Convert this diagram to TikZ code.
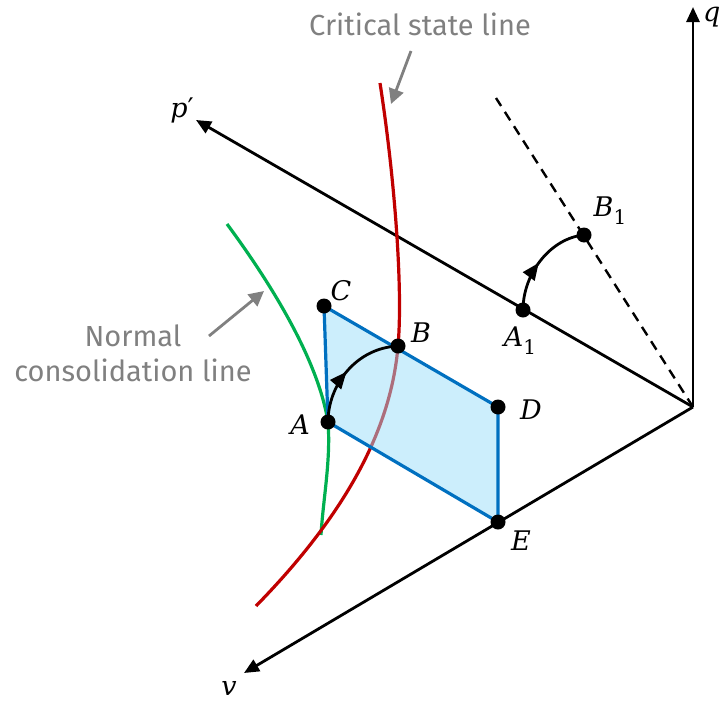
\documentclass[tikz,border=0pt]{standalone}
\usepackage{fontspec}
\usetikzlibrary{arrows.meta,decorations.markings}
\newfontfamily\grayfont{Fira Sans}
\newfontfamily\labfont{DejaVu Serif}
\newcommand{\labsub}[1]{\raisebox{-0.3em}{\upshape\fontsize{20}{20}\selectfont #1}}
\definecolor{cslred}{RGB}{192,0,0}
\definecolor{nclgreen}{RGB}{0,176,80}
\definecolor{boxblue}{RGB}{0,112,192}
\definecolor{boxfill}{RGB}{153,221,249}
\definecolor{txtgray}{RGB}{128,128,128}
\begin{document}
\begin{tikzpicture}[x=1pt,y=-1pt,
  axis/.style={line width=2.8pt,-{Triangle[length=15pt,width=13pt]}},
  dot/.style={circle,fill=black,inner sep=0pt,minimum size=15pt},
  lab/.style={inner sep=1pt,font=\labfont\itshape\fontsize{27}{30}\selectfont},
  graytxt/.style={text=txtgray,font=\grayfont\fontsize{29}{35}\selectfont,align=center,inner sep=0pt},
  grayarrow/.style={draw=txtgray,line width=2.8pt,-{Triangle[length=15pt,width=15pt]}},
  patharrow/.style={line width=2.8pt,postaction={decorate},
    decoration={markings,mark=at position 0.48 with {\arrow{Triangle[length=17pt,width=14pt]}}}}]
\useasboundingbox (0,0) rectangle (720,704);
% coordinates
\coordinate (O) at (693,407);
\coordinate (qtip) at (693,7);
\coordinate (ptip) at (196,120);
\coordinate (vtip) at (244,673);
\coordinate (dashend) at (496,98);
% axes
\draw[axis] (O) -- (qtip);
\draw[axis] (O) -- (ptip);
\draw[axis] (O) -- (vtip);
\draw[line width=2.4pt,dash pattern=on 10pt off 7pt] (O) -- (dashend);
% curves
\draw[nclgreen,line width=3.2pt] (227,224) .. controls (272,285) and (318,360) .. (328,422)
  .. controls (331,460) and (323,500) .. (321,535);
\draw[cslred,line width=3.2pt] (380,83) .. controls (395,180) and (403,290) .. (398,346)
  .. controls (391,430) and (345,515) .. (256,606);
% parallelogram
\coordinate (Cp) at (324,306);
\coordinate (Dp) at (498,407);
\coordinate (Ep) at (498,522);
\coordinate (Ap) at (328,422);
\fill[boxfill,fill opacity=0.5] (Cp) -- (Dp) -- (Ep) -- (Ap) -- cycle;
\draw[boxblue,line width=3.2pt,line join=round] (Cp) -- (Dp) -- (Ep) -- (Ap) -- cycle;
% dots
\node[dot] (C) at (Cp) {};
\node[dot] (B) at (398,346) {};
\node[dot] (D) at (Dp) {};
\node[dot] (E) at (Ep) {};
\node[dot] (A) at (Ap) {};
\node[dot] (A1) at (523,310) {};
\node[dot] (B1) at (584,235) {};
% stress path arcs
\draw[patharrow] (A.center) .. controls (328,385) and (356,348) .. (B.center);
\draw[patharrow] (A1.center) .. controls (523,273) and (551,238) .. (B1.center);
% labels
\node[lab] (lC) at (341,291) {C};
\node[lab] (lB) at (421,333) {B};
\node[lab] (lD) at (531,410) {D};
\node[lab] (lE) at (521,541) {E};
\node[lab] (lA) at (300,425) {A};
\node[lab] (lA1) at (520,341) {A\labsub{1}};
\node[lab] (lB1) at (610,211) {B\labsub{1}};
\node[lab] (lp) at (182,110) {p{\upshape′}};
\node[lab] (lv) at (229,688) {v};
\node[lab,anchor=west,inner sep=0pt] (lq) at (703,17) {q};
% gray annotations
\node[graytxt,anchor=base] (csl) at (420,35) {Critical state line};
\node[graytxt,anchor=north] (ncl) at (133,325) {Normal\\consolidation line};
\coordinate (cslA) at (411,51);
\coordinate (cslB) at (391,104);
\coordinate (nclA) at (209,336);
\coordinate (nclB) at (264,291);
\draw[grayarrow] (cslA) -- (cslB);
\draw[grayarrow] (nclA) -- (nclB);
\end{tikzpicture}
\end{document}
